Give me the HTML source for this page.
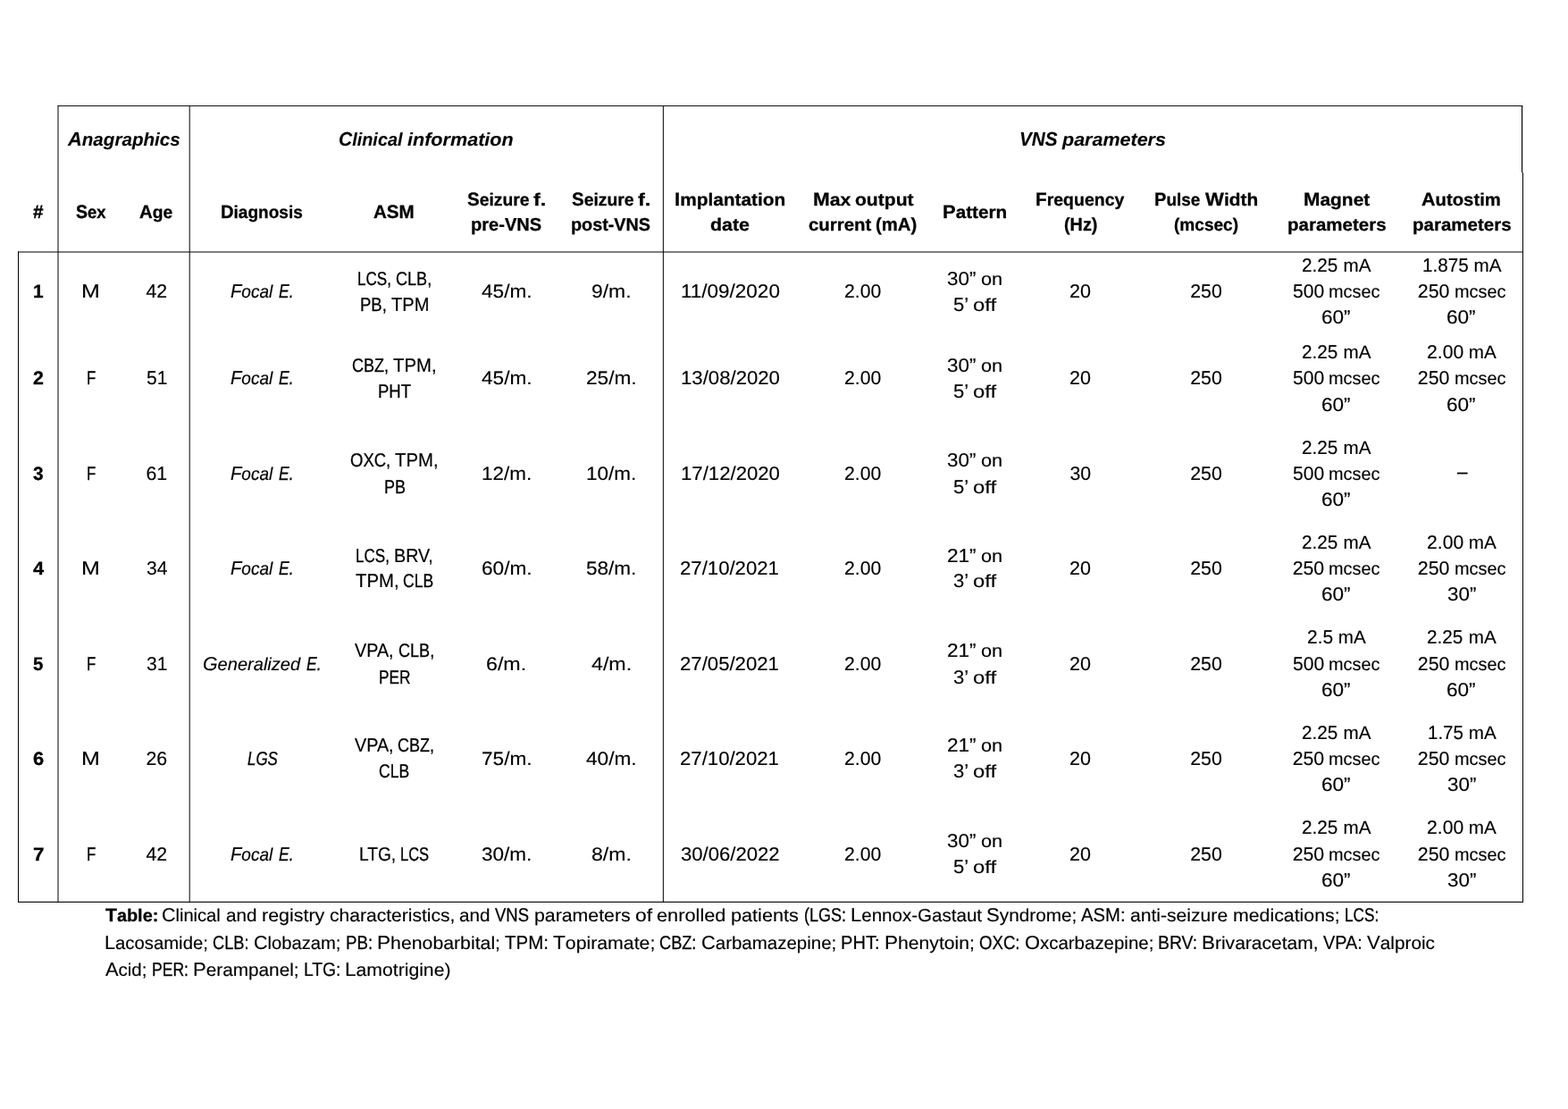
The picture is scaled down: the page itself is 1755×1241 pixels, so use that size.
<!DOCTYPE html>
<html lang="en">
<head>
<meta charset="utf-8">
<title>Table: Clinical and registry characteristics, and VNS parameters of enrolled patients</title>
<style>
html,body{margin:0;padding:0;background:#fff}
body{width:1755px;height:1241px;overflow:hidden;position:relative;font-family:"Liberation Sans",sans-serif;font-size:20.0px;line-height:26px;color:#000;text-rendering:geometricPrecision}
.page{position:absolute;left:0;top:0;width:1755px;height:1241px;background:#fff;overflow:hidden}
.rules{position:absolute;left:0;top:0}
.rules rect{mix-blend-mode:darken}
table,thead,tbody,tr,th,td,.ln,.caption{display:contents;font-weight:normal;margin:0;padding:0}
.t{position:absolute;display:block;white-space:pre;height:26px;line-height:26px;transform-origin:0 0}
.r{font-size:20.0px;-webkit-text-stroke:0.15px #000}
.r.u{font-size:21.3px}
.r.cap::first-letter{font-size:1.0650em}
.i{font-style:italic;font-size:20.0px;-webkit-text-stroke:0.15px #000}
.i.u{font-size:21.3px}
.i.cap::first-letter{font-size:1.0650em}
.b{font-weight:bold;font-size:19.6px;-webkit-text-stroke:0.3px #000}
.b.u{font-size:20.8px}
.b.cap::first-letter{font-size:1.0612em}
.bi{font-weight:bold;font-style:italic;font-size:19.6px;-webkit-text-stroke:0.1px #000}
.bi.u{font-size:20.8px}
.bi.cap::first-letter{font-size:1.0612em}
.bi.g{font-size:20.48px}
.bi.g.u{font-size:21.74px}
</style>
</head>
<body>
<div class="page">
<svg class="rules" width="1755" height="1241" viewBox="0 0 1755 1241" aria-hidden="true"><rect x="64.5" y="118" width="1639.8" height="1" fill="#111"/><rect x="20" y="281.5" width="1685" height="1" fill="#000"/><rect x="20" y="1008.85" width="1685" height="1.1" fill="#000"/><rect x="20" y="281.5" width="1" height="728.45" fill="#000"/><rect x="64.5" y="118" width="1" height="891.5" fill="#000"/><rect x="211.7" y="118.5" width="1" height="891" fill="#000"/><rect x="741.85" y="118.5" width="1" height="891" fill="#000"/><rect x="1703" y="118" width="1.15" height="75.2" fill="#000"/><rect x="1704" y="193.2" width="1" height="816.75" fill="#000"/></svg>
<table>
<thead>
<tr><th></th><th colspan="2"><div class="ln"><span class="t bi g cap" style="left:76.11px;top:143px;transform:scaleX(1.0064)">Anagraphics</span></div></th><th colspan="4"><div class="ln"><span class="t bi g cap" style="left:379.13px;top:143px;transform:scaleX(0.9699)">Clinical </span><span class="t bi g" style="left:456.29px;top:144px;transform:scaleX(1.0543)">information</span></div></th><th colspan="7"><div class="ln"><span class="t bi g u" style="left:1141.24px;top:143px;transform:scaleX(0.9544);-webkit-text-stroke-width:0.14px">VNS </span><span class="t bi g" style="left:1188.86px;top:144px;transform:scaleX(1.0503)">parameters</span></div></th></tr>
<tr><th><div class="ln"><span class="t b u" style="left:36.71px;top:225px;transform:scaleX(0.9964)">#</span></div></th><th><div class="ln"><span class="t b cap" style="left:84.69px;top:225px;transform:scaleX(0.9376);-webkit-text-stroke-width:0.36px">Sex</span></div></th><th><div class="ln"><span class="t b cap" style="left:156.27px;top:225px;transform:scaleX(0.9811)">Age</span></div></th><th><div class="ln"><span class="t b cap" style="left:247.46px;top:225px;transform:scaleX(0.9708)">Diagnosis</span></div></th><th><div class="ln"><span class="t b u" style="left:418.19px;top:225px;transform:scaleX(0.9899)">ASM</span></div></th><th><div class="ln"><span class="t b cap" style="left:522.65px;top:211px;transform:scaleX(0.9863)">Seizure </span><span class="t b" style="left:596.83px;top:211px;transform:scaleX(1.1952)">f.</span></div><div class="ln"><span class="t b" style="left:527.23px;top:239px;transform:scaleX(0.9942);font-size:20.2px">pre-VNS</span></div></th><th><div class="ln"><span class="t b cap" style="left:639.65px;top:211px;transform:scaleX(0.9863)">Seizure </span><span class="t b" style="left:713.83px;top:211px;transform:scaleX(1.1952)">f.</span></div><div class="ln"><span class="t b" style="left:639.38px;top:239px;transform:scaleX(0.9836);font-size:20.12px">post-VNS</span></div></th><th><div class="ln"><span class="t b cap" style="left:754.83px;top:211px;transform:scaleX(1.0638)">Implantation</span></div><div class="ln"><span class="t b" style="left:794.89px;top:239px;transform:scaleX(1.091)">date</span></div></th><th><div class="ln"><span class="t b cap" style="left:909.59px;top:211px;transform:scaleX(1.0808)">Max </span><span class="t b" style="left:956.7px;top:211px;transform:scaleX(1.0755)">output</span></div><div class="ln"><span class="t b" style="left:904.53px;top:239px;transform:scaleX(1.0418)">current </span><span class="t b" style="left:980.41px;top:239px;transform:scaleX(0.99);font-size:20.5px">(mA)</span></div></th><th><div class="ln"><span class="t b cap" style="left:1055.25px;top:225px;transform:scaleX(1.0576)">Pattern</span></div></th><th><div class="ln"><span class="t b cap" style="left:1159.19px;top:211px;transform:scaleX(0.9954)">Frequency</span></div><div class="ln"><span class="t b" style="left:1190.56px;top:239px;transform:scaleX(0.9676);font-size:20.5px">(Hz)</span></div></th><th><div class="ln"><span class="t b cap" style="left:1292.1px;top:211px;transform:scaleX(0.9668)">Pulse </span><span class="t b cap" style="left:1348.54px;top:211px;transform:scaleX(1.0648)">Width</span></div><div class="ln"><span class="t b" style="left:1313.9px;top:239px;transform:scaleX(0.9731)">(mcsec)</span></div></th><th><div class="ln"><span class="t b cap" style="left:1458.68px;top:211px;transform:scaleX(1.0667)">Magnet</span></div><div class="ln"><span class="t b" style="left:1440.72px;top:239px;transform:scaleX(1.0462)">parameters</span></div></th><th><div class="ln"><span class="t b cap" style="left:1591.29px;top:211px;transform:scaleX(1.0362)">Autostim</span></div><div class="ln"><span class="t b" style="left:1580.92px;top:239px;transform:scaleX(1.0462)">parameters</span></div></th></tr>
</thead>
<tbody>
<tr><td><div class="ln"><span class="t b u" style="left:36.93px;top:314px;transform:scaleX(1.005)">1</span></div></td><td><div class="ln"><span class="t r u" style="left:91.45px;top:313px;transform:scaleX(1.1719)">M</span></div></td><td><div class="ln"><span class="t r u" style="left:163.43px;top:313px;transform:scaleX(1)">42</span></div></td><td><div class="ln"><span class="t i cap" style="left:258.23px;top:313px;transform:scaleX(0.9497);-webkit-text-stroke-width:0.2px">Focal </span><span class="t i u" style="left:312.32px;top:313px;transform:scaleX(0.8235);-webkit-text-stroke-width:0.31px">E.</span></div></td><td><div class="ln"><span class="t r u" style="left:399.9px;top:299px;transform:scaleX(0.8);-webkit-text-stroke-width:0.33px">LCS, </span><span class="t r u" style="left:442.97px;top:299px;transform:scaleX(0.8483);-webkit-text-stroke-width:0.29px">CLB,</span></div><div class="ln"><span class="t r u" style="left:402.79px;top:328px;transform:scaleX(0.8699);-webkit-text-stroke-width:0.27px">PB, </span><span class="t r u" style="left:437.76px;top:328px;transform:scaleX(0.9419);-webkit-text-stroke-width:0.2px">TPM</span></div></td><td><div class="ln"><span class="t r" style="left:538.73px;top:314px;transform:scaleX(1.0796);font-size:20.98px">45/m.</span></div></td><td><div class="ln"><span class="t r" style="left:661.98px;top:314px;transform:scaleX(1.0993);font-size:20.87px">9/m.</span></div></td><td><div class="ln"><span class="t r u" style="left:761.78px;top:313px;transform:scaleX(1.056)">11/09/2020</span></div></td><td><div class="ln"><span class="t r u" style="left:945.34px;top:313px;transform:scaleX(0.9937)">2.00</span></div></td><td><div class="ln"><span class="t r u" style="left:1060.31px;top:299px;transform:scaleX(1.0513)">30” </span><span class="t r" style="left:1098.26px;top:300px;transform:scaleX(1.0864)">on</span></div><div class="ln"><span class="t r u" style="left:1067.09px;top:328px;transform:scaleX(1.0339)">5’ </span><span class="t r" style="left:1089.49px;top:329px;transform:scaleX(1.1882)">off</span></div></td><td><div class="ln"><span class="t r u" style="left:1197.22px;top:313px;transform:scaleX(1.0114)">20</span></div></td><td><div class="ln"><span class="t r u" style="left:1332.23px;top:313px;transform:scaleX(1)">250</span></div></td><td><div class="ln"><span class="t r u" style="left:1457px;top:284px;transform:scaleX(0.9748)">2.25 </span><span class="t r" style="left:1503.52px;top:285px;transform:scaleX(1);font-size:20.65px">mA</span></div><div class="ln"><span class="t r u" style="left:1446.88px;top:313px;transform:scaleX(0.9926)">500 </span><span class="t r" style="left:1487.4px;top:314px;transform:scaleX(0.9955)">mcsec</span></div><div class="ln"><span class="t r u" style="left:1479.18px;top:342px;transform:scaleX(1.0603)">60”</span></div></td><td><div class="ln"><span class="t r u" style="left:1591.91px;top:284px;transform:scaleX(0.9706)">1.875 </span><span class="t r" style="left:1649.52px;top:285px;transform:scaleX(1);font-size:20.65px">mA</span></div><div class="ln"><span class="t r u" style="left:1586.83px;top:313px;transform:scaleX(1)">250 </span><span class="t r" style="left:1627.6px;top:314px;transform:scaleX(0.9955)">mcsec</span></div><div class="ln"><span class="t r u" style="left:1619.38px;top:342px;transform:scaleX(1.0603)">60”</span></div></td></tr>
<tr><td><div class="ln"><span class="t b u" style="left:36.92px;top:411px;transform:scaleX(1.0286)">2</span></div></td><td><div class="ln"><span class="t r u" style="left:97.22px;top:410px;transform:scaleX(0.7905);-webkit-text-stroke-width:0.34px">F</span></div></td><td><div class="ln"><span class="t r u" style="left:163.69px;top:410px;transform:scaleX(0.9886)">51</span></div></td><td><div class="ln"><span class="t i cap" style="left:258.23px;top:410px;transform:scaleX(0.9497);-webkit-text-stroke-width:0.2px">Focal </span><span class="t i u" style="left:312.32px;top:410px;transform:scaleX(0.8235);-webkit-text-stroke-width:0.31px">E.</span></div></td><td><div class="ln"><span class="t r u" style="left:394.06px;top:396px;transform:scaleX(0.847);-webkit-text-stroke-width:0.29px">CBZ, </span><span class="t r u" style="left:440.46px;top:396px;transform:scaleX(0.9538);-webkit-text-stroke-width:0.19px">TPM,</span></div><div class="ln"><span class="t r u" style="left:423.04px;top:425px;transform:scaleX(0.8704);-webkit-text-stroke-width:0.27px">PHT</span></div></td><td><div class="ln"><span class="t r" style="left:538.73px;top:411px;transform:scaleX(1.0796);font-size:20.98px">45/m.</span></div></td><td><div class="ln"><span class="t r" style="left:655.69px;top:411px;transform:scaleX(1.0804);font-size:20.98px">25/m.</span></div></td><td><div class="ln"><span class="t r u" style="left:761.8px;top:410px;transform:scaleX(1.0408)">13/08/2020</span></div></td><td><div class="ln"><span class="t r u" style="left:945.34px;top:410px;transform:scaleX(0.9937)">2.00</span></div></td><td><div class="ln"><span class="t r u" style="left:1060.31px;top:396px;transform:scaleX(1.0513)">30” </span><span class="t r" style="left:1098.26px;top:397px;transform:scaleX(1.0864)">on</span></div><div class="ln"><span class="t r u" style="left:1067.09px;top:425px;transform:scaleX(1.0339)">5’ </span><span class="t r" style="left:1089.49px;top:426px;transform:scaleX(1.1882)">off</span></div></td><td><div class="ln"><span class="t r u" style="left:1197.22px;top:410px;transform:scaleX(1.0114)">20</span></div></td><td><div class="ln"><span class="t r u" style="left:1332.23px;top:410px;transform:scaleX(1)">250</span></div></td><td><div class="ln"><span class="t r u" style="left:1457px;top:381px;transform:scaleX(0.9748)">2.25 </span><span class="t r" style="left:1503.52px;top:382px;transform:scaleX(1);font-size:20.65px">mA</span></div><div class="ln"><span class="t r u" style="left:1446.88px;top:410px;transform:scaleX(0.9926)">500 </span><span class="t r" style="left:1487.4px;top:411px;transform:scaleX(0.9955)">mcsec</span></div><div class="ln"><span class="t r u" style="left:1479.18px;top:440px;transform:scaleX(1.0603)">60”</span></div></td><td><div class="ln"><span class="t r u" style="left:1597.18px;top:381px;transform:scaleX(0.9937)">2.00 </span><span class="t r" style="left:1643.72px;top:382px;transform:scaleX(1);font-size:20.65px">mA</span></div><div class="ln"><span class="t r u" style="left:1586.83px;top:410px;transform:scaleX(1)">250 </span><span class="t r" style="left:1627.6px;top:411px;transform:scaleX(0.9955)">mcsec</span></div><div class="ln"><span class="t r u" style="left:1619.38px;top:440px;transform:scaleX(1.0603)">60”</span></div></td></tr>
<tr><td><div class="ln"><span class="t b u" style="left:37.44px;top:518px;transform:scaleX(1.0047)">3</span></div></td><td><div class="ln"><span class="t r u" style="left:97.22px;top:517px;transform:scaleX(0.7905);-webkit-text-stroke-width:0.34px">F</span></div></td><td><div class="ln"><span class="t r u" style="left:163.43px;top:517px;transform:scaleX(1)">61</span></div></td><td><div class="ln"><span class="t i cap" style="left:258.23px;top:517px;transform:scaleX(0.9497);-webkit-text-stroke-width:0.2px">Focal </span><span class="t i u" style="left:312.32px;top:517px;transform:scaleX(0.8235);-webkit-text-stroke-width:0.31px">E.</span></div></td><td><div class="ln"><span class="t r u" style="left:392.1px;top:502px;transform:scaleX(0.868);-webkit-text-stroke-width:0.27px">OXC, </span><span class="t r u" style="left:442.4px;top:502px;transform:scaleX(0.9538);-webkit-text-stroke-width:0.19px">TPM,</span></div><div class="ln"><span class="t r u" style="left:429.58px;top:532px;transform:scaleX(0.8431);-webkit-text-stroke-width:0.29px">PB</span></div></td><td><div class="ln"><span class="t r" style="left:539.17px;top:518px;transform:scaleX(1.0711);font-size:20.98px">12/m.</span></div></td><td><div class="ln"><span class="t r" style="left:656.17px;top:518px;transform:scaleX(1.0711);font-size:20.98px">10/m.</span></div></td><td><div class="ln"><span class="t r u" style="left:761.8px;top:517px;transform:scaleX(1.0408)">17/12/2020</span></div></td><td><div class="ln"><span class="t r u" style="left:945.34px;top:517px;transform:scaleX(0.9937)">2.00</span></div></td><td><div class="ln"><span class="t r u" style="left:1060.31px;top:502px;transform:scaleX(1.0513)">30” </span><span class="t r" style="left:1098.26px;top:503px;transform:scaleX(1.0864)">on</span></div><div class="ln"><span class="t r u" style="left:1067.09px;top:532px;transform:scaleX(1.0339)">5’ </span><span class="t r" style="left:1089.49px;top:533px;transform:scaleX(1.1882)">off</span></div></td><td><div class="ln"><span class="t r u" style="left:1197.48px;top:517px;transform:scaleX(1)">30</span></div></td><td><div class="ln"><span class="t r u" style="left:1332.23px;top:517px;transform:scaleX(1)">250</span></div></td><td><div class="ln"><span class="t r u" style="left:1457px;top:488px;transform:scaleX(0.9748)">2.25 </span><span class="t r" style="left:1503.52px;top:489px;transform:scaleX(1);font-size:20.65px">mA</span></div><div class="ln"><span class="t r u" style="left:1446.88px;top:517px;transform:scaleX(0.9926)">500 </span><span class="t r" style="left:1487.4px;top:518px;transform:scaleX(0.9955)">mcsec</span></div><div class="ln"><span class="t r u" style="left:1479.18px;top:546px;transform:scaleX(1.0603)">60”</span></div></td><td><div class="ln"><span class="t r u" style="left:1630.5px;top:515px;transform:scaleX(0.9792)">–</span></div></td></tr>
<tr><td><div class="ln"><span class="t b u" style="left:36.68px;top:624px;transform:scaleX(1.0489)">4</span></div></td><td><div class="ln"><span class="t r u" style="left:91.45px;top:623px;transform:scaleX(1.1719)">M</span></div></td><td><div class="ln"><span class="t r u" style="left:163.69px;top:623px;transform:scaleX(0.9889)">34</span></div></td><td><div class="ln"><span class="t i cap" style="left:258.23px;top:623px;transform:scaleX(0.9497);-webkit-text-stroke-width:0.2px">Focal </span><span class="t i u" style="left:312.32px;top:623px;transform:scaleX(0.8235);-webkit-text-stroke-width:0.31px">E.</span></div></td><td><div class="ln"><span class="t r u" style="left:398.11px;top:609px;transform:scaleX(0.8);-webkit-text-stroke-width:0.33px">LCS, </span><span class="t r u" style="left:441.16px;top:609px;transform:scaleX(0.9257);-webkit-text-stroke-width:0.22px">BRV,</span></div><div class="ln"><span class="t r u" style="left:397.56px;top:637px;transform:scaleX(0.9538);-webkit-text-stroke-width:0.19px">TPM, </span><span class="t r u" style="left:450.96px;top:637px;transform:scaleX(0.8228);-webkit-text-stroke-width:0.31px">CLB</span></div></td><td><div class="ln"><span class="t r" style="left:538.69px;top:624px;transform:scaleX(1.0804);font-size:20.98px">60/m.</span></div></td><td><div class="ln"><span class="t r" style="left:655.97px;top:624px;transform:scaleX(1.075);font-size:20.98px">58/m.</span></div></td><td><div class="ln"><span class="t r u" style="left:761.32px;top:623px;transform:scaleX(1.0406)">27/10/2021</span></div></td><td><div class="ln"><span class="t r u" style="left:945.34px;top:623px;transform:scaleX(0.9937)">2.00</span></div></td><td><div class="ln"><span class="t r u" style="left:1060.03px;top:609px;transform:scaleX(1.0603)">21” </span><span class="t r" style="left:1098.26px;top:610px;transform:scaleX(1.0864)">on</span></div><div class="ln"><span class="t r u" style="left:1067.09px;top:637px;transform:scaleX(1.0339)">3’ </span><span class="t r" style="left:1089.49px;top:638px;transform:scaleX(1.1882)">off</span></div></td><td><div class="ln"><span class="t r u" style="left:1197.22px;top:623px;transform:scaleX(1.0114)">20</span></div></td><td><div class="ln"><span class="t r u" style="left:1332.23px;top:623px;transform:scaleX(1)">250</span></div></td><td><div class="ln"><span class="t r u" style="left:1457px;top:594px;transform:scaleX(0.9748)">2.25 </span><span class="t r" style="left:1503.52px;top:595px;transform:scaleX(1);font-size:20.65px">mA</span></div><div class="ln"><span class="t r u" style="left:1446.63px;top:623px;transform:scaleX(1)">250 </span><span class="t r" style="left:1487.4px;top:624px;transform:scaleX(0.9955)">mcsec</span></div><div class="ln"><span class="t r u" style="left:1479.18px;top:652px;transform:scaleX(1.0603)">60”</span></div></td><td><div class="ln"><span class="t r u" style="left:1597.18px;top:594px;transform:scaleX(0.9937)">2.00 </span><span class="t r" style="left:1643.72px;top:595px;transform:scaleX(1);font-size:20.65px">mA</span></div><div class="ln"><span class="t r u" style="left:1586.83px;top:623px;transform:scaleX(1)">250 </span><span class="t r" style="left:1627.6px;top:624px;transform:scaleX(0.9955)">mcsec</span></div><div class="ln"><span class="t r u" style="left:1619.66px;top:652px;transform:scaleX(1.0513)">30”</span></div></td></tr>
<tr><td><div class="ln"><span class="t b u" style="left:36.95px;top:731px;transform:scaleX(0.9814)">5</span></div></td><td><div class="ln"><span class="t r u" style="left:97.22px;top:730px;transform:scaleX(0.7905);-webkit-text-stroke-width:0.34px">F</span></div></td><td><div class="ln"><span class="t r u" style="left:163.69px;top:730px;transform:scaleX(0.9886)">31</span></div></td><td><div class="ln"><span class="t i cap" style="left:227.11px;top:730px;transform:scaleX(1.0023)">Generalized </span><span class="t i u" style="left:342.91px;top:730px;transform:scaleX(0.8235);-webkit-text-stroke-width:0.31px">E.</span></div></td><td><div class="ln"><span class="t r u" style="left:397.19px;top:715px;transform:scaleX(0.9282);-webkit-text-stroke-width:0.21px">VPA, </span><span class="t r u" style="left:445.83px;top:715px;transform:scaleX(0.8483);-webkit-text-stroke-width:0.29px">CLB,</span></div><div class="ln"><span class="t r u" style="left:424.05px;top:745px;transform:scaleX(0.811);-webkit-text-stroke-width:0.32px">PER</span></div></td><td><div class="ln"><span class="t r" style="left:544.46px;top:731px;transform:scaleX(1.1126);font-size:20.87px">6/m.</span></div></td><td><div class="ln"><span class="t r" style="left:661.52px;top:731px;transform:scaleX(1.1111);font-size:20.87px">4/m.</span></div></td><td><div class="ln"><span class="t r u" style="left:761.32px;top:730px;transform:scaleX(1.0406)">27/05/2021</span></div></td><td><div class="ln"><span class="t r u" style="left:945.34px;top:730px;transform:scaleX(0.9937)">2.00</span></div></td><td><div class="ln"><span class="t r u" style="left:1060.03px;top:715px;transform:scaleX(1.0603)">21” </span><span class="t r" style="left:1098.26px;top:716px;transform:scaleX(1.0864)">on</span></div><div class="ln"><span class="t r u" style="left:1067.09px;top:745px;transform:scaleX(1.0339)">3’ </span><span class="t r" style="left:1089.49px;top:746px;transform:scaleX(1.1882)">off</span></div></td><td><div class="ln"><span class="t r u" style="left:1197.22px;top:730px;transform:scaleX(1.0114)">20</span></div></td><td><div class="ln"><span class="t r u" style="left:1332.23px;top:730px;transform:scaleX(1)">250</span></div></td><td><div class="ln"><span class="t r u" style="left:1462.79px;top:700px;transform:scaleX(0.982)">2.5 </span><span class="t r" style="left:1497.71px;top:701px;transform:scaleX(1);font-size:20.65px">mA</span></div><div class="ln"><span class="t r u" style="left:1446.88px;top:730px;transform:scaleX(0.9926)">500 </span><span class="t r" style="left:1487.4px;top:731px;transform:scaleX(0.9955)">mcsec</span></div><div class="ln"><span class="t r u" style="left:1479.18px;top:759px;transform:scaleX(1.0603)">60”</span></div></td><td><div class="ln"><span class="t r u" style="left:1597.2px;top:700px;transform:scaleX(0.9748)">2.25 </span><span class="t r" style="left:1643.72px;top:701px;transform:scaleX(1);font-size:20.65px">mA</span></div><div class="ln"><span class="t r u" style="left:1586.83px;top:730px;transform:scaleX(1)">250 </span><span class="t r" style="left:1627.6px;top:731px;transform:scaleX(0.9955)">mcsec</span></div><div class="ln"><span class="t r u" style="left:1619.38px;top:759px;transform:scaleX(1.0603)">60”</span></div></td></tr>
<tr><td><div class="ln"><span class="t b u" style="left:36.91px;top:837px;transform:scaleX(1.0524)">6</span></div></td><td><div class="ln"><span class="t r u" style="left:91.45px;top:836px;transform:scaleX(1.1719)">M</span></div></td><td><div class="ln"><span class="t r u" style="left:163.43px;top:836px;transform:scaleX(1)">26</span></div></td><td><div class="ln"><span class="t i u" style="left:276.58px;top:836px;transform:scaleX(0.7917);-webkit-text-stroke-width:0.34px">LGS</span></div></td><td><div class="ln"><span class="t r u" style="left:396.65px;top:821px;transform:scaleX(0.9282);-webkit-text-stroke-width:0.21px">VPA, </span><span class="t r u" style="left:445.28px;top:821px;transform:scaleX(0.847);-webkit-text-stroke-width:0.29px">CBZ,</span></div><div class="ln"><span class="t r u" style="left:424.22px;top:850px;transform:scaleX(0.8228);-webkit-text-stroke-width:0.31px">CLB</span></div></td><td><div class="ln"><span class="t r" style="left:538.69px;top:837px;transform:scaleX(1.0804);font-size:20.98px">75/m.</span></div></td><td><div class="ln"><span class="t r" style="left:655.73px;top:837px;transform:scaleX(1.0796);font-size:20.98px">40/m.</span></div></td><td><div class="ln"><span class="t r u" style="left:761.32px;top:836px;transform:scaleX(1.0406)">27/10/2021</span></div></td><td><div class="ln"><span class="t r u" style="left:945.34px;top:836px;transform:scaleX(0.9937)">2.00</span></div></td><td><div class="ln"><span class="t r u" style="left:1060.03px;top:821px;transform:scaleX(1.0603)">21” </span><span class="t r" style="left:1098.26px;top:822px;transform:scaleX(1.0864)">on</span></div><div class="ln"><span class="t r u" style="left:1067.09px;top:850px;transform:scaleX(1.0339)">3’ </span><span class="t r" style="left:1089.49px;top:851px;transform:scaleX(1.1882)">off</span></div></td><td><div class="ln"><span class="t r u" style="left:1197.22px;top:836px;transform:scaleX(1.0114)">20</span></div></td><td><div class="ln"><span class="t r u" style="left:1332.23px;top:836px;transform:scaleX(1)">250</span></div></td><td><div class="ln"><span class="t r u" style="left:1457px;top:807px;transform:scaleX(0.9748)">2.25 </span><span class="t r" style="left:1503.52px;top:808px;transform:scaleX(1);font-size:20.65px">mA</span></div><div class="ln"><span class="t r u" style="left:1446.63px;top:836px;transform:scaleX(1)">250 </span><span class="t r" style="left:1487.4px;top:837px;transform:scaleX(0.9955)">mcsec</span></div><div class="ln"><span class="t r u" style="left:1479.18px;top:865px;transform:scaleX(1.0603)">60”</span></div></td><td><div class="ln"><span class="t r u" style="left:1597.73px;top:807px;transform:scaleX(0.9618);-webkit-text-stroke-width:0.18px">1.75 </span><span class="t r" style="left:1643.72px;top:808px;transform:scaleX(1);font-size:20.65px">mA</span></div><div class="ln"><span class="t r u" style="left:1586.83px;top:836px;transform:scaleX(1)">250 </span><span class="t r" style="left:1627.6px;top:837px;transform:scaleX(0.9955)">mcsec</span></div><div class="ln"><span class="t r u" style="left:1619.66px;top:865px;transform:scaleX(1.0513)">30”</span></div></td></tr>
<tr><td><div class="ln"><span class="t b u" style="left:36.88px;top:944px;transform:scaleX(1.08)">7</span></div></td><td><div class="ln"><span class="t r u" style="left:97.22px;top:943px;transform:scaleX(0.7905);-webkit-text-stroke-width:0.34px">F</span></div></td><td><div class="ln"><span class="t r u" style="left:163.43px;top:943px;transform:scaleX(1)">42</span></div></td><td><div class="ln"><span class="t i cap" style="left:258.23px;top:943px;transform:scaleX(0.9497);-webkit-text-stroke-width:0.2px">Focal </span><span class="t i u" style="left:312.32px;top:943px;transform:scaleX(0.8235);-webkit-text-stroke-width:0.31px">E.</span></div></td><td><div class="ln"><span class="t r u" style="left:402.12px;top:943px;transform:scaleX(0.8994);-webkit-text-stroke-width:0.24px">LTG, </span><span class="t r u" style="left:448.48px;top:943px;transform:scaleX(0.7742);-webkit-text-stroke-width:0.35px">LCS</span></div></td><td><div class="ln"><span class="t r" style="left:538.97px;top:944px;transform:scaleX(1.075);font-size:20.98px">30/m.</span></div></td><td><div class="ln"><span class="t r" style="left:661.75px;top:944px;transform:scaleX(1.1053);font-size:20.87px">8/m.</span></div></td><td><div class="ln"><span class="t r u" style="left:761.58px;top:943px;transform:scaleX(1.0381)">30/06/2022</span></div></td><td><div class="ln"><span class="t r u" style="left:945.34px;top:943px;transform:scaleX(0.9937)">2.00</span></div></td><td><div class="ln"><span class="t r u" style="left:1060.31px;top:928px;transform:scaleX(1.0513)">30” </span><span class="t r" style="left:1098.26px;top:929px;transform:scaleX(1.0864)">on</span></div><div class="ln"><span class="t r u" style="left:1067.09px;top:957px;transform:scaleX(1.0339)">5’ </span><span class="t r" style="left:1089.49px;top:958px;transform:scaleX(1.1882)">off</span></div></td><td><div class="ln"><span class="t r u" style="left:1197.22px;top:943px;transform:scaleX(1.0114)">20</span></div></td><td><div class="ln"><span class="t r u" style="left:1332.23px;top:943px;transform:scaleX(1)">250</span></div></td><td><div class="ln"><span class="t r u" style="left:1457px;top:913px;transform:scaleX(0.9748)">2.25 </span><span class="t r" style="left:1503.52px;top:914px;transform:scaleX(1);font-size:20.65px">mA</span></div><div class="ln"><span class="t r u" style="left:1446.63px;top:943px;transform:scaleX(1)">250 </span><span class="t r" style="left:1487.4px;top:944px;transform:scaleX(0.9955)">mcsec</span></div><div class="ln"><span class="t r u" style="left:1479.18px;top:972px;transform:scaleX(1.0603)">60”</span></div></td><td><div class="ln"><span class="t r u" style="left:1597.18px;top:913px;transform:scaleX(0.9937)">2.00 </span><span class="t r" style="left:1643.72px;top:914px;transform:scaleX(1);font-size:20.65px">mA</span></div><div class="ln"><span class="t r u" style="left:1586.83px;top:943px;transform:scaleX(1)">250 </span><span class="t r" style="left:1627.6px;top:944px;transform:scaleX(0.9955)">mcsec</span></div><div class="ln"><span class="t r u" style="left:1619.66px;top:972px;transform:scaleX(1.0513)">30”</span></div></td></tr>
</tbody>
</table>
<p class="caption"><span class="ln"><span class="t b cap" style="left:117.51px;top:1012px;transform:scaleX(1.0155)">Table: </span><span class="t r cap" style="left:181.1px;top:1011px;transform:scaleX(1.0054)">Clinical </span><span class="t r" style="left:252.81px;top:1012px;transform:scaleX(1.0332)">and </span><span class="t r" style="left:293.04px;top:1012px;transform:scaleX(1.0715)">registry </span><span class="t r" style="left:368.53px;top:1012px;transform:scaleX(1.053)">characteristics, </span><span class="t r" style="left:514.08px;top:1012px;transform:scaleX(1.0332)">and </span><span class="t r u" style="left:554.4px;top:1011px;transform:scaleX(0.8675);-webkit-text-stroke-width:0.27px">VNS </span><span class="t r" style="left:597.88px;top:1012px;transform:scaleX(1.0645)">parameters </span><span class="t r" style="left:710.62px;top:1012px;transform:scaleX(1.1422)">of </span><span class="t r" style="left:734.94px;top:1012px;transform:scaleX(1.0882)">enrolled </span><span class="t r" style="left:817.9px;top:1012px;transform:scaleX(1.0821)">patients </span><span class="t r u" style="left:899.75px;top:1011px;transform:scaleX(0.844);-webkit-text-stroke-width:0.29px">(LGS: </span><span class="t r cap" style="left:951.69px;top:1011px;transform:scaleX(1.028)">Lennox-Gastaut </span><span class="t r cap" style="left:1103.94px;top:1011px;transform:scaleX(1.0383)">Syndrome; </span><span class="t r u" style="left:1210.41px;top:1011px;transform:scaleX(0.9516);-webkit-text-stroke-width:0.19px">ASM: </span><span class="t r" style="left:1265.36px;top:1012px;transform:scaleX(1.0555)">anti-seizure </span><span class="t r" style="left:1379.95px;top:1012px;transform:scaleX(1.0656)">medications; </span><span class="t r u" style="left:1504.77px;top:1011px;transform:scaleX(0.8068);-webkit-text-stroke-width:0.32px">LCS:</span></span>
<span class="ln"><span class="t r cap" style="left:117.39px;top:1042px;transform:scaleX(1.015)">Lacosamide; </span><span class="t r u" style="left:238.32px;top:1042px;transform:scaleX(0.8551);-webkit-text-stroke-width:0.28px">CLB: </span><span class="t r cap" style="left:283.85px;top:1042px;transform:scaleX(1.0094)">Clobazam; </span><span class="t r u" style="left:386.66px;top:1042px;transform:scaleX(0.8793);-webkit-text-stroke-width:0.26px">PB: </span><span class="t r cap" style="left:421.99px;top:1042px;transform:scaleX(1.0628)">Phenobarbital; </span><span class="t r u" style="left:565.19px;top:1042px;transform:scaleX(0.9603);-webkit-text-stroke-width:0.19px">TPM: </span><span class="t r cap" style="left:619.13px;top:1042px;transform:scaleX(1.0631)">Topiramate; </span><span class="t r u" style="left:738.35px;top:1042px;transform:scaleX(0.8537);-webkit-text-stroke-width:0.28px">CBZ: </span><span class="t r cap" style="left:784.96px;top:1042px;transform:scaleX(1.0238)">Carbamazepine; </span><span class="t r u" style="left:941.49px;top:1042px;transform:scaleX(0.9425);-webkit-text-stroke-width:0.2px">PHT: </span><span class="t r cap" style="left:989.94px;top:1042px;transform:scaleX(1.0585)">Phenytoin; </span><span class="t r u" style="left:1096.09px;top:1042px;transform:scaleX(0.8743);-webkit-text-stroke-width:0.26px">OXC: </span><span class="t r cap" style="left:1146.59px;top:1042px;transform:scaleX(1.0231)">Oxcarbazepine; </span><span class="t r u" style="left:1296.21px;top:1042px;transform:scaleX(0.9068);-webkit-text-stroke-width:0.23px">BRV: </span><span class="t r cap" style="left:1345.23px;top:1042px;transform:scaleX(1.0512)">Brivaracetam, </span><span class="t r u" style="left:1480.91px;top:1042px;transform:scaleX(0.935);-webkit-text-stroke-width:0.21px">VPA: </span><span class="t r cap" style="left:1530.39px;top:1042px;transform:scaleX(1.0393)">Valproic</span></span>
<span class="ln"><span class="t r cap" style="left:117.66px;top:1072px;transform:scaleX(1.0243)">Acid; </span><span class="t r u" style="left:169.59px;top:1072px;transform:scaleX(0.8228);-webkit-text-stroke-width:0.31px">PER: </span><span class="t r cap" style="left:216.05px;top:1072px;transform:scaleX(1.0376)">Perampanel; </span><span class="t r u" style="left:339.7px;top:1072px;transform:scaleX(0.9066);-webkit-text-stroke-width:0.23px">LTG: </span><span class="t r cap" style="left:386.06px;top:1072px;transform:scaleX(1.0588)">Lamotrigine)</span></span>
</p>
</div>
</body>
</html>
